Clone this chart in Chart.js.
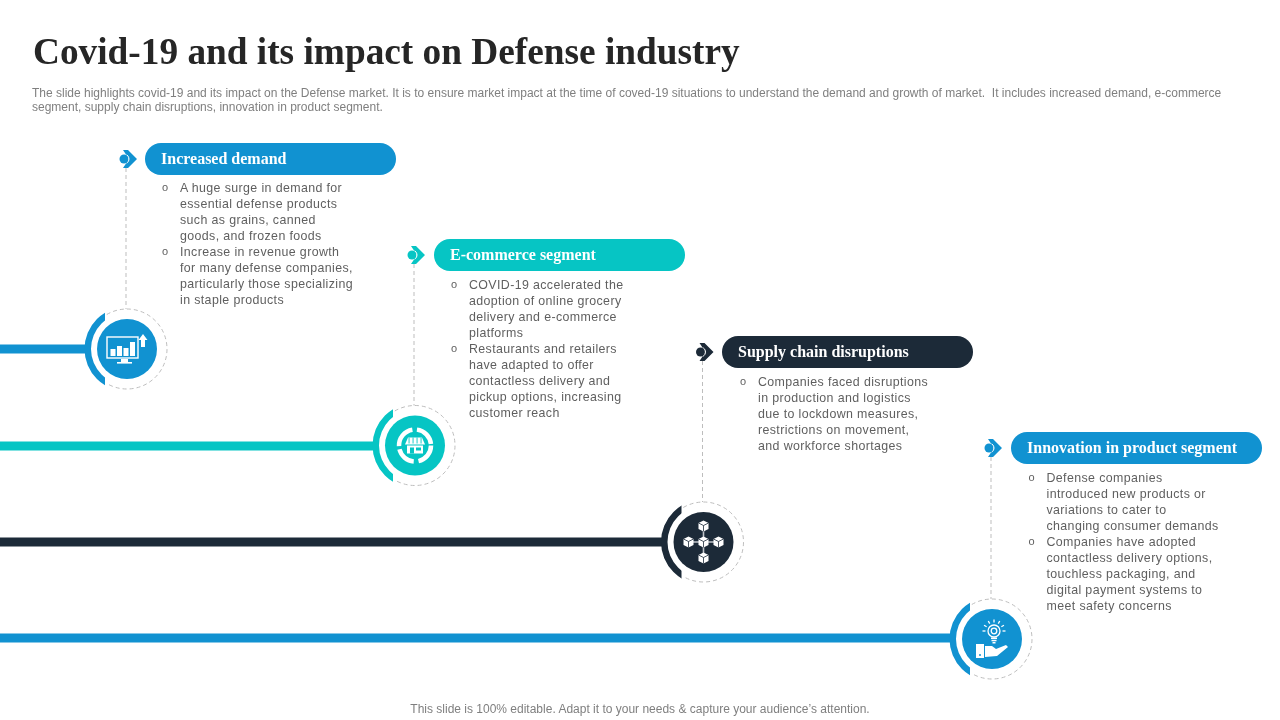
<!DOCTYPE html>
<html>
<head>
<meta charset="utf-8">
<title>Covid-19 and its impact on Defense industry</title>
<script src="https://cdn.jsdelivr.net/npm/chart.js@4/dist/chart.umd.min.js"></script>
<style>
html,body{margin:0;padding:0;background:#fff;width:1280px;height:720px;overflow:hidden}
#stage{position:relative;width:1280px;height:720px}
canvas{position:absolute;left:0;top:0}
.t{position:absolute;white-space:pre}
#title{left:33px;top:31px;font:bold 37.3px/42px "Liberation Serif",serif;color:#262626}
#sub{left:32px;top:86px;font:12px/14px "Liberation Sans",sans-serif;color:#7f7f7f}
#foot{left:0;width:1280px;text-align:center;top:702px;font:12px/15px "Liberation Sans",sans-serif;color:#7f7f7f}
.h{font:bold 16px/20px "Liberation Serif",serif;color:#fff}
.b{font:12.4px/16px "Liberation Sans",sans-serif;letter-spacing:.38px;color:#5f5f5f}
.o{font:11px/16px "Liberation Sans",sans-serif;color:#5f5f5f}
</style>
</head>
<body>
<div id="stage"><canvas id="c" width="1280" height="720"></canvas></div>
<script>
const titleText = "Covid-19 and its impact on Defense industry";
const subLines = [
  "The slide highlights covid-19 and its impact on the Defense market. It is to ensure market impact at the time of coved-19 situations to understand the demand and growth of market.  It includes increased demand, e-commerce",
  "segment, supply chain disruptions, innovation in product segment."
];
const footText = "This slide is 100% editable. Adapt it to your needs & capture your audience\u2019s attention.";

const stageNames = ["Increased demand", "E-commerce segment", "Supply chain disruptions", "Innovation in product segment"];
const stageColors = ["#1192d1", "#06c5c4", "#1c2a38", "#1192d1"];
const nodeX = [127, 415, 703.5, 992];
const nodeY = [349, 445.5, 542, 639];
const laneY = [349, 446, 542, 638];
const headerY = [159, 255, 352, 448];
const pillX = [145, 434, 722, 1011];
const bodyX = [180, 469, 758, 1046.5];
const bodyTop = [180, 277, 374, 470];

const bullets1 = [["A huge surge in demand for","essential defense products","such as grains, canned","goods, and frozen foods"],
                  ["Increase in revenue growth","for many defense companies,","particularly those specializing","in staple products"]];
const bullets2 = [["COVID-19 accelerated the","adoption of online grocery","delivery and e-commerce","platforms"],
                  ["Restaurants and retailers","have adapted to offer","contactless delivery and","pickup options, increasing","customer reach"]];
const bullets3 = [["Companies faced disruptions","in production and logistics","due to lockdown measures,","restrictions on movement,","and workforce shortages"]];
const bullets4 = [["Defense companies","introduced new products or","variations to cater to","changing consumer demands"],
                  ["Companies have adopted","contactless delivery options,","touchless packaging, and","digital payment systems to","meet safety concerns"]];
const allBullets = [bullets1, bullets2, bullets3, bullets4];

// ---------- real text
const stage = document.getElementById('stage');
function addText(cls, id, left, top, txt){
  const d = document.createElement('div');
  d.className = 't ' + cls;
  if(id) d.id = id;
  if(left !== null) d.style.left = left + 'px';
  if(top !== null) d.style.top = top + 'px';
  d.textContent = txt;
  stage.appendChild(d);
}
addText('', 'title', null, null, titleText);
addText('', 'sub', null, null, subLines.join("\n"));
addText('', 'foot', null, null, footText);
nodeX.forEach((x, i) => {
  addText('h', null, pillX[i] + 16, headerY[i] - 10, stageNames[i]);
  let y = bodyTop[i];
  allBullets[i].forEach(group => {
    addText('o', null, bodyX[i] - 18, y - 1, "o");
    addText('b', null, bodyX[i], y, group.join("\n"));
    y += group.length * 16;
  });
});

// ---------- chart
const datasets = [];
nodeX.forEach((x, i) => {
  const c = stageColors[i], ly = laneY[i];
  datasets.push({ data:[{x:0,y:ly},{x:x-41,y:ly}], showLine:true, borderColor:c, borderWidth:9, pointRadius:0, borderCapStyle:'butt' });
  datasets.push({ data:[{x:x-1,y:headerY[i]+9},{x:x-1,y:nodeY[i]-40}], showLine:true, borderColor:'#bdbdbd', borderWidth:1, borderDash:[4,3], pointRadius:0 });
  datasets.push({ data:[{x:pillX[i]+16,y:headerY[i]},{x:pillX[i]+235,y:headerY[i]}], showLine:true, borderColor:c, borderWidth:32, pointRadius:0, borderCapStyle:'round' });
  datasets.push({ data:[{x:x,y:nodeY[i]}], showLine:false, pointRadius:30, pointHoverRadius:30, pointBorderWidth:0, pointBackgroundColor:c });
});

function icon1(g){
  g.strokeStyle='#fff'; g.fillStyle='#fff'; g.lineWidth=1.4;
  g.strokeRect(-20,-12,31,21);
  g.fillRect(-16.5,0,5,7); g.fillRect(-10,-3,5,10); g.fillRect(-3.5,-1,5,8); g.fillRect(3,-7,5,14);
  g.fillRect(-6,10,7,3); g.fillRect(-10,13,15,1.6);
  g.beginPath(); g.moveTo(16,-15); g.lineTo(20.5,-9); g.lineTo(18,-9); g.lineTo(18,-2); g.lineTo(14,-2); g.lineTo(14,-9); g.lineTo(11.5,-9); g.closePath(); g.fill();
}
function icon2(g){
  g.strokeStyle='#fff'; g.fillStyle='#fff'; g.lineWidth=4.5;
  [[-1.45,-0.1],[0.0,1.35],[1.65,2.9],[3.1,4.55]].forEach(a=>{ g.beginPath(); g.arc(0,0,16,a[0],a[1]); g.stroke(); });
  g.beginPath(); g.moveTo(-7,-8); g.lineTo(7,-8); g.lineTo(10,-1); g.lineTo(-10,-1); g.closePath(); g.fill();
  g.fillRect(-8,0,16,8);
  g.fillStyle='#06c5c4';
  g.fillRect(-5,2,4,6); g.fillRect(1,2,5,3);
  for(let k=-6;k<=6;k+=4) g.fillRect(k-.4,-8,.9,6);
}
function cube(g,x,y){
  g.fillStyle='#fff';
  g.beginPath(); g.moveTo(x,y-5.5); g.lineTo(x+5,y-3); g.lineTo(x+5,y+3); g.lineTo(x,y+5.5); g.lineTo(x-5,y+3); g.lineTo(x-5,y-3); g.closePath(); g.fill();
  g.strokeStyle='#1c2a38'; g.lineWidth=.8;
  g.beginPath(); g.moveTo(x-5,y-3); g.lineTo(x,y-.5); g.lineTo(x+5,y-3); g.moveTo(x,y-.5); g.lineTo(x,y+5.5); g.stroke();
}
function icon3(g){
  g.strokeStyle='#bfc4c9'; g.lineWidth=1.6;
  g.beginPath(); g.moveTo(-15,0); g.lineTo(15,0); g.moveTo(0,-16); g.lineTo(0,16); g.stroke();
  [[0,-16],[-15,0],[0,0],[15,0],[0,16]].forEach(p=>cube(g,p[0],p[1]));
}
function icon4(g){
  g.strokeStyle='#fff'; g.fillStyle='#fff'; g.lineWidth=1.3;
  g.beginPath(); g.arc(2,-8,6,0,Math.PI*2); g.stroke();
  g.beginPath(); g.arc(2,-8,2.8,0,Math.PI*2); g.stroke();
  g.fillRect(-1,-1.5,6,1.5); g.fillRect(-.5,.8,5,1.5); g.fillRect(.5,3,3,1.5);
  for(let k=0;k<7;k++){ const a=Math.PI*(1+k/6);
    g.beginPath(); g.moveTo(2+Math.cos(a)*8.5,-8+Math.sin(a)*8.5); g.lineTo(2+Math.cos(a)*11.5,-8+Math.sin(a)*11.5); g.stroke(); }
  g.fillRect(-16,5,8,14);
  g.beginPath(); g.moveTo(-7,7); g.lineTo(0,7); g.lineTo(4,10); g.lineTo(14,6); g.lineTo(16,8); g.lineTo(5,17); g.lineTo(-7,18); g.closePath(); g.fill();
  g.fillStyle='#1192d1'; g.beginPath(); g.arc(-12,16,1,0,7); g.fill();
}
const icons = [icon1, icon2, icon3, icon4];

const decor = {
  id:'decor',
  afterDatasetsDraw(chart){
    const g = chart.ctx, sx = chart.scales.x, sy = chart.scales.y;
    nodeX.forEach((x,i)=>{
      const px = sx.getPixelForValue(x), py = sy.getPixelForValue(nodeY[i]);
      const c = stageColors[i];
      // dashed ring
      g.save();
      g.strokeStyle='#bdbdbd'; g.lineWidth=1; g.setLineDash([4,3]);
      g.beginPath(); g.arc(px,py,40,-2.1,2.1); g.stroke();
      g.restore();
      // crescent clipped on its right
      g.save();
      g.beginPath(); g.rect(px-50,py-50,28,100); g.clip();
      g.fillStyle=c;
      g.beginPath(); g.arc(px,py,42.5,0,Math.PI*2); g.arc(px,py,36,0,Math.PI*2,true); g.fill();
      g.restore();
      // header marker
      const hy = sy.getPixelForValue(headerY[i]), hx = px-2;
      g.fillStyle=c;
      g.beginPath(); g.moveTo(hx-2,hy-9); g.lineTo(hx+3,hy-9); g.lineTo(hx+12,hy); g.lineTo(hx+3,hy+9); g.lineTo(hx-2,hy+9); g.lineTo(hx+4,hy); g.closePath(); g.fill();
      g.beginPath(); g.arc(hx-1,hy,4.5,0,Math.PI*2); g.fill();
      g.strokeStyle='#fff'; g.lineWidth=1; g.beginPath(); g.arc(hx-1,hy,5,-1,1); g.stroke();
      // icon
      g.save(); g.translate(px,py); icons[i](g); g.restore();
    });
  }
};

new Chart(document.getElementById('c'), {
  type:'scatter',
  data:{ datasets },
  options:{
    responsive:false, animation:false, events:[],
    layout:{ padding:0, autoPadding:false },
    plugins:{ legend:{display:false}, tooltip:{enabled:false}, title:{display:false} },
    scales:{
      x:{ type:'linear', min:0, max:1280, display:false },
      y:{ type:'linear', min:0, max:720, reverse:true, display:false }
    }
  },
  plugins:[decor]
});
</script>
</body>
</html>
